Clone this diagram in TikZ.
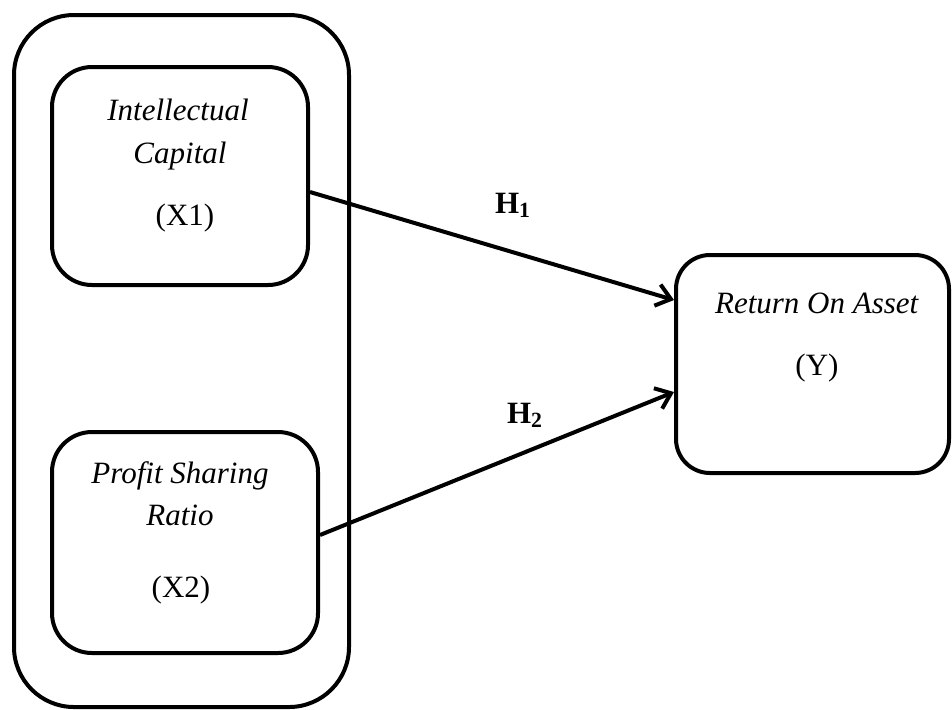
\documentclass[tikz,border=0pt]{standalone}
\usepackage{fontspec}
\setmainfont{Liberation Serif}
\usetikzlibrary{arrows.meta}

\tikzset{
  varbox/.style={draw, line width=2pt, rounded corners=20pt, inner sep=0pt},
  hyp/.style={line width=2pt, -{Straight Barb[length=7pt,width=11pt]}},
}

\begin{document}
\begin{tikzpicture}[x=0.5pt,y=-0.5pt,font=\fontsize{15.5}{18}\selectfont]

\useasboundingbox (0,0) rectangle (952,709);

% Outer group
\node[varbox, rounded corners=30pt, minimum width=167.5pt, minimum height=346pt] (grp) at (181.5,361) {};

% Intellectual Capital
\node[varbox, minimum width=128pt, minimum height=109pt] (x1) at (180,176) {};
\node[anchor=base] (x1a) at (178,120) {\textit{Intellectual}};
\node[anchor=base] (x1b) at (180,163) {\textit{Capital}};
\node[anchor=base] (x1c) at (185,225) {(X1)};

% Profit Sharing Ratio
\node[varbox, minimum width=133pt, minimum height=110.5pt] (x2) at (185,542.5) {};
\node[anchor=base] (x2a) at (180,483) {\textit{Profit Sharing}};
\node[anchor=base] (x2b) at (180,525) {\textit{Ratio}};
\node[anchor=base] (x2c) at (181,597) {(X2)};

% Return On Asset
\node[varbox, rounded corners=17pt, minimum width=136.5pt, minimum height=109pt] (y) at (812.5,364) {};
\node[anchor=base] (ya) at (817,313) {\textit{Return On Asset}};
\node[anchor=base] (yb) at (817,375) {(Y)};

% Hypotheses
\draw[hyp] ([yshift=-8pt]x1.east) -- ([yshift=32pt]y.west);
\draw[hyp] ([yshift=3.75pt]x2.east) -- ([yshift=-14pt]y.west);
\node[anchor=base] (h1) at (513,213) {\textbf{H\textsubscript{1}}};
\node[anchor=base] (h2) at (525,423) {\textbf{H\textsubscript{2}}};

\end{tikzpicture}
\end{document}
